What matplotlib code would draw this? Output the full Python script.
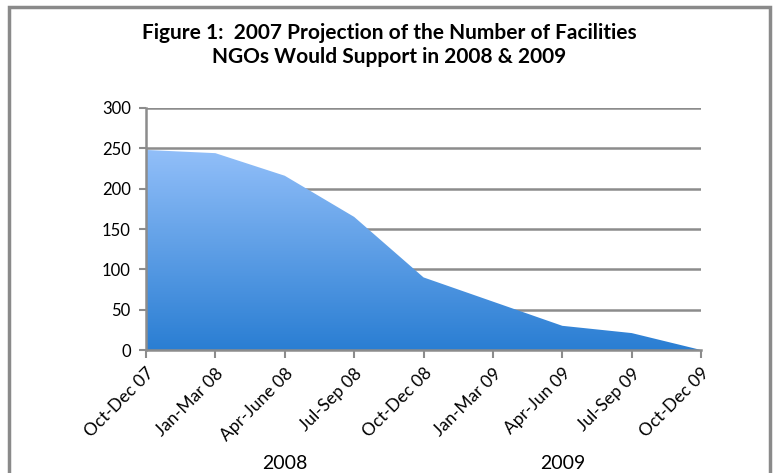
import matplotlib.pyplot as plt
import numpy as np
from matplotlib.patches import Rectangle
from matplotlib.colors import LinearSegmentedColormap

quarters = ["Oct-Dec 07", "Jan-Mar 08", "Apr-June 08", "Jul-Sep 08", "Oct-Dec 08",
            "Jan-Mar 09", "Apr-Jun 09", "Jul-Sep 09", "Oct-Dec 09"]
facilities = [248, 244, 216, 165, 90, 60, 30, 21, 0]
year_labels = ["2008", "2009"]
year_pos = [2, 6]

plt.rcParams['font.family'] = ['Lato', 'DejaVu Sans']

fig = plt.figure(figsize=(7.79, 4.73), dpi=100)
ax = fig.add_axes([0.1874, 0.260, 0.7126, 0.5117])

x = np.arange(len(quarters))
ax.set_xlim(0, len(quarters) - 1)
ax.set_ylim(0, 300)

# gridlines under the area
for v in range(50, 301, 50):
    ax.axhline(v, color="#8c8c8c", lw=1.8, zorder=1)

# gradient fill clipped to the area shape
poly = ax.fill_between(x, facilities, 0, color="none", lw=0, zorder=2)
cmap = LinearSegmentedColormap.from_list("blu", ["#2a7ed3", "#92bff9"])
grad = np.linspace(0, 1, 256).reshape(-1, 1)
im = ax.imshow(grad, cmap=cmap, aspect="auto", origin="lower",
               extent=[0, len(quarters) - 1, 0, max(facilities)], zorder=2)
im.set_clip_path(poly.get_paths()[0], transform=ax.transData)

for s in ["top", "right"]:
    ax.spines[s].set_visible(False)
for s in ["left", "bottom"]:
    ax.spines[s].set_color("#8c8c8c")
    ax.spines[s].set_linewidth(1.8)
    ax.spines[s].set_zorder(3)

ax.set_yticks(range(0, 301, 50))
ax.tick_params(axis="y", length=5, width=1.5, color="#8c8c8c", labelsize=12, pad=6)
ax.set_xticks(x)
ax.set_xticklabels(quarters, rotation=45, ha="right", rotation_mode="anchor")
ax.tick_params(axis="x", length=6, width=1.5, color="#8c8c8c", labelsize=12.5, pad=5)

for lab, p in zip(year_labels, year_pos):
    ax.text(p, -0.47, lab, transform=ax.get_xaxis_transform(),
            ha="center", va="center", fontsize=14)

fig.text(0.5, 0.905, "Figure 1:  2007 Projection of the Number of Facilities\nNGOs Would Support in 2008 & 2009",
         ha="center", va="center", fontsize=15, fontweight="bold", linespacing=1.25)

# outer frame
fig.patches.append(Rectangle((9 / 779, -0.1), (770 - 9) / 779, (473 - 7) / 473 + 0.1,
                             transform=fig.transFigure, fill=False,
                             edgecolor="#8a8a8a", lw=2.5))

fig.savefig("out.png", dpi=100)
